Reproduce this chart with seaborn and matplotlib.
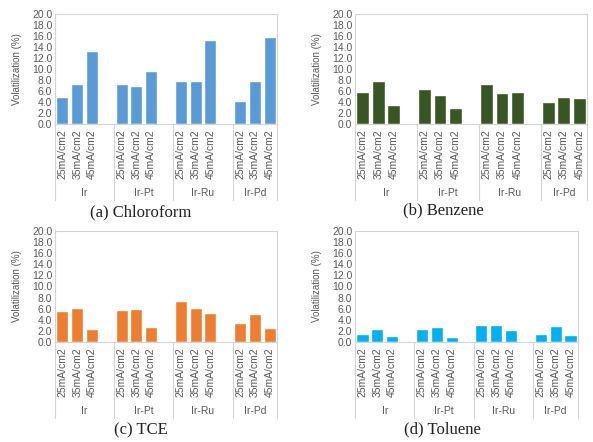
import pandas as pd
import matplotlib
matplotlib.use("Agg")
import matplotlib.pyplot as plt
import matplotlib.ticker as mticker
import seaborn as sns

# data
catalysts = ["Ir", "Ir-Pt", "Ir-Ru", "Ir-Pd"]
currents = ["25mA/cm2", "35mA/cm2", "45mA/cm2"]

chloroform = [5.0, 7.3, 13.2, 7.3, 6.9, 9.6, 7.9, 7.8, 15.2, 4.2, 7.9, 15.9]
benzene = [5.8, 7.9, 3.5, 6.3, 5.2, 3.0, 7.3, 5.6, 5.8, 4.0, 4.9, 4.8]
tce = [5.6, 6.2, 2.4, 5.8, 6.0, 2.7, 7.4, 6.1, 5.3, 3.4, 5.1, 2.6]
toluene = [1.5, 2.4, 1.1, 2.4, 2.7, 0.9, 3.1, 3.1, 2.1, 1.5, 2.9, 1.2]

panels = [
    ("(a) Chloroform", chloroform, "#5B9BD5"),
    ("(b) Benzene", benzene, "#375623"),
    ("(c) TCE", tce, "#ED7D31"),
    ("(d) Toluene", toluene, "#00B0F0"),
]

# axes boxes in pixels: left, right, top, bottom
boxes = [(55, 277, 14, 124), (355, 587, 14, 124),
         (55, 277, 231, 342), (355, 578, 231, 342)]
# caption centres in pixels
captions = [(141, 212), (443, 210), (141, 430), (442, 429)]

W, H = 593, 442
GRID = "#D4D4D4"
TXT = "#595959"


def build_df(values):
    rows = []
    for gi, cat in enumerate(catalysts):
        for ci, cur in enumerate(currents):
            # one blank slot between groups, like the Excel sheet
            rows.append({"catalyst": cat, "current": cur,
                         "pos": gi * 4 + ci, "value": values[gi * 3 + ci]})
    return pd.DataFrame(rows)


sns.set_style("white")
plt.rcParams["font.family"] = ["Liberation Sans", "DejaVu Sans"]

fig = plt.figure(figsize=(W / 100, H / 100), dpi=100)

for (title, values, color), (l, r, t, b), (cx, cy) in zip(panels, boxes, captions):
    ax = fig.add_axes([l / W, 1 - b / H, (r - l) / W, (b - t) / H])
    df = build_df(values)
    sns.barplot(data=df, x="pos", y="value", native_scale=True, width=0.82,
                color=color, saturation=1, ax=ax)

    ax.set_xlim(-0.5, 14.5)
    ax.set_ylim(0, 20)
    ax.yaxis.set_major_locator(mticker.MultipleLocator(2))
    ax.yaxis.set_major_formatter(mticker.FormatStrFormatter("%.1f"))
    ax.set_xticks(df["pos"])
    ax.set_xticklabels(df["current"], rotation=90, fontsize=7.5, color=TXT)
    ax.tick_params(axis="y", labelsize=7.5, labelcolor=TXT, length=0, pad=2)
    ax.tick_params(axis="x", length=0, pad=4)
    ax.set_xlabel("")
    ax.set_ylabel("Volatilization (%)", fontsize=7, color=TXT, labelpad=7)

    for sp in ax.spines.values():
        sp.set_color(GRID)
        sp.set_linewidth(0.8)

    # group separators and group labels under the ticks
    trans = ax.get_xaxis_transform()
    depth = -76 / (b - t)
    for x in [-0.5, 3.5, 7.5, 11.5, 14.5]:
        ax.plot([x, x], [0, depth], transform=trans, color=GRID,
                linewidth=0.8, clip_on=False)
    for gi, cat in enumerate(catalysts):
        x0 = gi * 4 - 0.5
        x1 = min(x0 + 4, 14.5)
        ax.text((x0 + x1) / 2, -69 / (b - t), cat, transform=trans,
                ha="center", va="center", fontsize=7.5, color=TXT)

    fig.text(cx / W, 1 - cy / H, title,
             ha="center", va="center", fontsize=12,
             family=["Liberation Serif", "DejaVu Serif"], color="#222222")

fig.savefig("out.png", dpi=100)
